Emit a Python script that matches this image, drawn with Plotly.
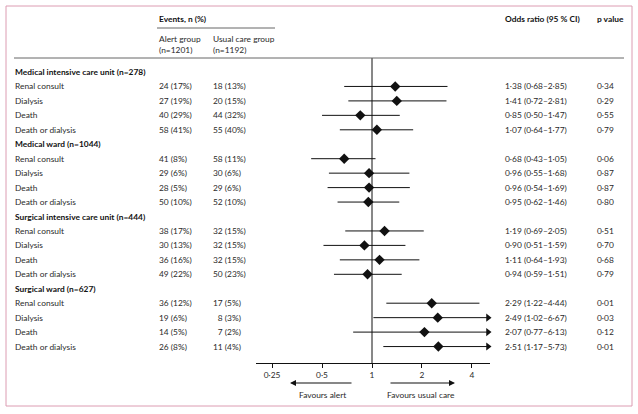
import math
import plotly.graph_objects as go

W, H = 638, 414

groups = ["Medical intensive care unit (n=278)", "Medical ward (n=1044)",
          "Surgical intensive care unit (n=444)", "Surgical ward (n=627)"]
outcomes = ["Renal consult", "Dialysis", "Death", "Death or dialysis"]

alert_events = ["24 (17%)", "27 (19%)", "40 (29%)", "58 (41%)",
                "41 (8%)", "29 (6%)", "28 (5%)", "50 (10%)",
                "38 (17%)", "30 (13%)", "36 (16%)", "49 (22%)",
                "36 (12%)", "19 (6%)", "14 (5%)", "26 (8%)"]
usual_events = ["18 (13%)", "20 (15%)", "44 (32%)", "55 (40%)",
                "58 (11%)", "30 (6%)", "29 (6%)", "52 (10%)",
                "32 (15%)", "32 (15%)", "32 (15%)", "50 (23%)",
                "17 (5%)", "\u20078 (3%)", "\u20077 (2%)", "11 (4%)"]
odds_ratio = [1.38, 1.41, 0.85, 1.07,
              0.68, 0.96, 0.96, 0.95,
              1.19, 0.90, 1.11, 0.94,
              2.29, 2.49, 2.07, 2.51]
ci_low = [0.68, 0.72, 0.50, 0.64,
          0.43, 0.55, 0.54, 0.62,
          0.69, 0.51, 0.64, 0.59,
          1.22, 1.02, 0.77, 1.17]
ci_high = [2.85, 2.81, 1.47, 1.77,
           1.05, 1.68, 1.69, 1.46,
           2.05, 1.59, 1.93, 1.51,
           4.44, 6.67, 6.13, 5.73]
p_values = ["0·34", "0·29", "0·55", "0·79",
            "0·06", "0·87", "0·87", "0·80",
            "0·51", "0·70", "0·68", "0·79",
            "0·01", "0·03", "0·12", "0·01"]
tick_vals = [0.25, 0.5, 1, 2, 4]
tick_text = ["0·25", "0·5", "1", "2", "4"]

X_MIN, X_MAX = 0.2, 5.14
CLIP = 5.0

FONT = "Lato"
TXT = "#2a2a2a"
FS = 8.4

def fmt(v):
    return f"{v:.2f}".replace(".", "·")

# row layout (row index -> pixel y = Y0 + i*DY)
Y0, DY = 72.0, 14.45
def row_of_pixel(p):
    return (p - Y0) / DY

def px_x(p):
    return p / W

def px_y(p):
    return 1 - p / H

fig = go.Figure()
annotations = []
ys = []

for g, gname in enumerate(groups):
    gi = g * 5
    annotations.append(dict(x=px_x(13), y=gi, xref="paper", yref="y", text=f"<b>{gname}</b>",
                            showarrow=False, xanchor="left", yanchor="middle",
                            font=dict(family=FONT, size=FS, color="#111")))
    for k, oname in enumerate(outcomes):
        idx = g * 4 + k
        ri = gi + 1 + k
        ys.append(ri)
        for xp, txt in [(13, oname), (157, alert_events[idx]), (211, usual_events[idx]),
                        (503, f"{fmt(odds_ratio[idx])} ({fmt(ci_low[idx])}–{fmt(ci_high[idx])})"),
                        (595, p_values[idx])]:
            annotations.append(dict(x=px_x(xp), y=ri, xref="paper", yref="y", text=txt,
                                    showarrow=False, xanchor="left", yanchor="middle",
                                    font=dict(family=FONT, size=FS, color=TXT)))

# CI lines
for idx, ri in enumerate(ys):
    hi = min(ci_high[idx], CLIP)
    fig.add_trace(go.Scatter(x=[ci_low[idx], hi], y=[ri, ri], mode="lines",
                             line=dict(color="#111", width=1), showlegend=False,
                             hoverinfo="skip", cliponaxis=False))
# truncated arrows
tr_x = [CLIP for i in range(len(ys)) if ci_high[i] > CLIP]
tr_y = [ys[i] for i in range(len(ys)) if ci_high[i] > CLIP]
fig.add_trace(go.Scatter(x=tr_x, y=tr_y, mode="markers",
                         marker=dict(symbol="triangle-right", size=7, color="#111"),
                         showlegend=False, cliponaxis=False))
# null line
fig.add_trace(go.Scatter(x=[1, 1], y=[row_of_pixel(58), row_of_pixel(363)], mode="lines",
                         line=dict(color="#111", width=1), showlegend=False,
                         hoverinfo="skip", cliponaxis=False))
# point estimates
fig.add_trace(go.Scatter(x=odds_ratio, y=ys, mode="markers",
                         marker=dict(symbol="diamond", size=8, color="#111"),
                         showlegend=False, cliponaxis=False))

# headers
hdr_font = dict(family=FONT, size=FS, color="#111")
annotations += [
    dict(x=px_x(157), y=px_y(19), xref="paper", yref="paper", text="<b>Events, n (%)</b>",
         showarrow=False, xanchor="left", yanchor="middle", font=hdr_font),
    dict(x=px_x(157), y=px_y(44.5), xref="paper", yref="paper", text="Alert group<br>(n=1201)",
         showarrow=False, xanchor="left", yanchor="middle", align="left",
         font=dict(family=FONT, size=FS, color=TXT)),
    dict(x=px_x(211), y=px_y(44.5), xref="paper", yref="paper", text="Usual care group<br>(n=1192)",
         showarrow=False, xanchor="left", yanchor="middle", align="left",
         font=dict(family=FONT, size=FS, color=TXT)),
    dict(x=px_x(503), y=px_y(19), xref="paper", yref="paper", text="<b>Odds ratio (95 % CI)</b>",
         showarrow=False, xanchor="left", yanchor="middle", font=hdr_font),
    dict(x=px_x(595), y=px_y(19), xref="paper", yref="paper", text="<b>p value</b>",
         showarrow=False, xanchor="left", yanchor="middle", font=hdr_font),
    # favours arrows
    dict(x=px_x(290), y=px_y(383), xref="paper", yref="paper", text="", showarrow=True,
         ax=63, ay=0, arrowhead=2, arrowsize=1, arrowwidth=1.2, arrowcolor="#111"),
    dict(x=px_x(455), y=px_y(383), xref="paper", yref="paper", text="", showarrow=True,
         ax=-66, ay=0, arrowhead=2, arrowsize=1, arrowwidth=1.2, arrowcolor="#111"),
    dict(x=px_x(322), y=px_y(395), xref="paper", yref="paper", text="Favours alert",
         showarrow=False, xanchor="center", yanchor="middle",
         font=dict(family=FONT, size=FS, color=TXT)),
    dict(x=px_x(421), y=px_y(395), xref="paper", yref="paper", text="Favours usual care",
         showarrow=False, xanchor="center", yanchor="middle",
         font=dict(family=FONT, size=FS, color=TXT)),
]

shapes = [
    dict(type="rect", xref="paper", yref="paper", x0=px_x(6), x1=px_x(632), y0=px_y(406), y1=px_y(6),
         line=dict(color="#dc9cb2", width=1), fillcolor="rgba(0,0,0,0)", layer="below"),
    dict(type="line", xref="paper", yref="paper", x0=px_x(14), x1=px_x(624), y0=px_y(58), y1=px_y(58),
         line=dict(color="#666", width=1)),
    dict(type="line", xref="paper", yref="paper", x0=px_x(157), x1=px_x(275), y0=px_y(28), y1=px_y(28),
         line=dict(color="#666", width=1)),
]

fig.update_layout(
    width=W, height=H, margin=dict(l=0, r=0, t=0, b=0),
    paper_bgcolor="white", plot_bgcolor="rgba(0,0,0,0)",
    annotations=annotations, shapes=shapes, showlegend=False,
    xaxis=dict(type="log", domain=[px_x(256), px_x(490)],
               range=[math.log10(X_MIN), math.log10(X_MAX)],
               anchor="free", position=px_y(363),
               showline=True, linecolor="#111", linewidth=1,
               ticks="outside", ticklen=4, tickcolor="#111",
               tickvals=tick_vals, ticktext=tick_text,
               tickfont=dict(family=FONT, size=FS, color=TXT),
               showgrid=False, zeroline=False, fixedrange=True),
    yaxis=dict(domain=[0, 1], range=[row_of_pixel(H), row_of_pixel(0)],
               visible=False, showgrid=False, zeroline=False, fixedrange=True),
)

fig.write_html("out.html", config={"displayModeBar": False},
               post_script="document.body.style.margin='0';document.body.style.overflow='hidden';")
